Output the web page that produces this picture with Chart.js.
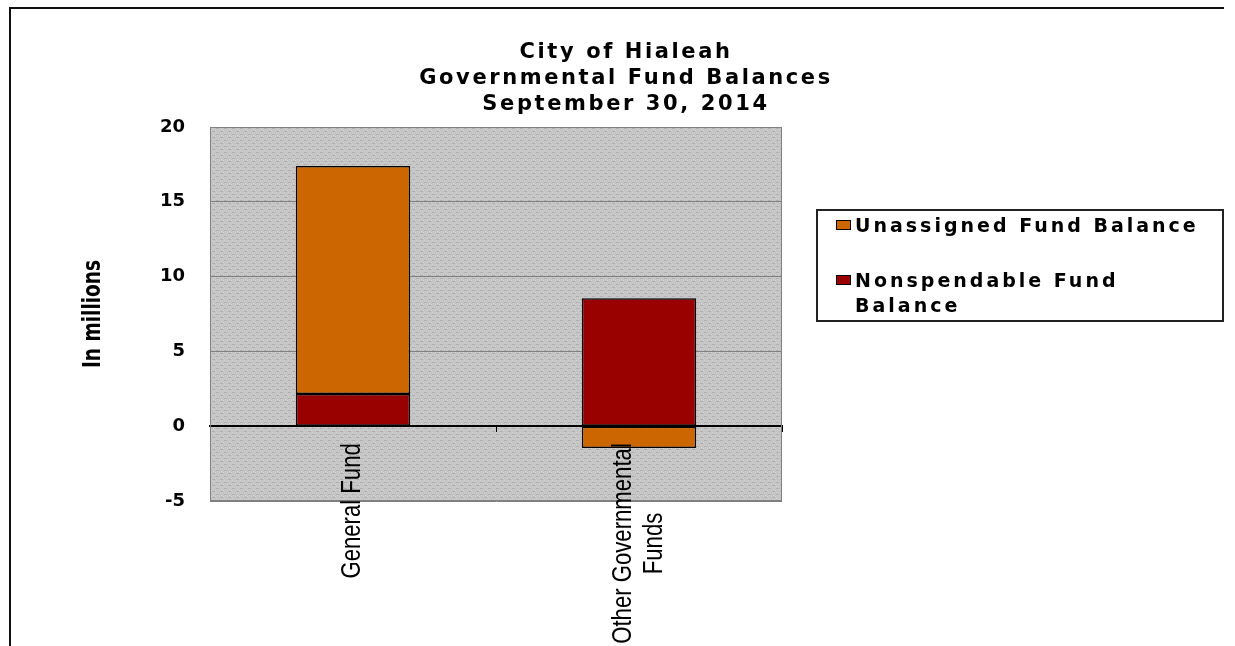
<!DOCTYPE html>
<html>
<head>
<meta charset="utf-8">
<script src="https://cdn.jsdelivr.net/npm/chart.js@4"></script>
<style>
  html, body { margin: 0; padding: 0; background: #fff; }
</style>
</head>
<body>
<canvas id="fundChart" width="1235" height="646"></canvas>
<script>
// values (in millions)
const categories = [['General Fund'], ['Other Governmental', 'Funds']];
const nonspendable = [2.15, 8.55];
const unassigned = [15.25, -1.45];
const seriesNames = ['Nonspendable Fund Balance', 'Unassigned Fund Balance'];
const seriesColors = ['#990000', '#CC6600'];
const titleLines = ['City of Hialeah', 'Governmental Fund Balances', 'September 30, 2014'];
const yAxisTitle = 'In millions';
const yMin = -5, yMax = 20, yStep = 5;

const arial = "'Liberation Sans', Arial, sans-serif";
const heavy = "'DejaVu Sans', sans-serif";
const NARROW = 0.82; // no Arial Narrow here, so squeeze Liberation Sans

// grey dotted fill, like the old Excel plot area
function makePattern(ctx) {
    const tile = document.createElement('canvas');
    tile.width = 8;
    tile.height = 6;
    const t = tile.getContext('2d');
    const rows = [
        'lbbblbbb',
        'bblbbblb',
        'dddbbbbb',
        'blbbblbb',
        'bbblbbbl',
        'bbbbdddb'
    ];
    const cols = { b: '#c4c4c4', l: '#d3d3d3', d: '#afafaf' };
    rows.forEach((r, y) => {
        for (let x = 0; x < r.length; x++) {
            t.fillStyle = cols[r[x]];
            t.fillRect(x, y, 1, 1);
        }
    });
    return ctx.createPattern(tile, 'repeat');
}

function wrapText(ctx, text, maxWidth) {
    const words = text.split(' ');
    const lines = [];
    let cur = '';
    words.forEach(w => {
        const test = cur ? cur + ' ' + w : w;
        if (cur && ctx.measureText(test).width > maxWidth) {
            lines.push(cur);
            cur = w;
        } else {
            cur = test;
        }
    });
    if (cur) lines.push(cur);
    return lines;
}

const decor = {
    id: 'decor',
    beforeDraw(chart) {
        const { ctx, chartArea: a } = chart;
        ctx.save();
        ctx.fillStyle = makePattern(ctx);
        ctx.fillRect(a.left, a.top, a.right - a.left, a.bottom - a.top);
        ctx.restore();
    },
    beforeDatasetsDraw(chart) {
        const { ctx, chartArea: a } = chart;
        ctx.save();
        ctx.strokeStyle = '#808080';
        ctx.lineWidth = 1;
        ctx.strokeRect(a.left + 0.5, a.top + 0.5, a.right - a.left - 1, a.bottom - a.top - 1);
        ctx.restore();
    },
    afterDraw(chart) {
        const { ctx, scales, chartArea: a } = chart;
        ctx.save();

        // outer frame, only left and top show
        ctx.strokeStyle = '#111';
        ctx.lineWidth = 2;
        ctx.beginPath();
        ctx.moveTo(10, 646);
        ctx.lineTo(10, 8);
        ctx.lineTo(1224, 8);
        ctx.stroke();

        // title
        ctx.fillStyle = '#000';
        ctx.font = 'bold 21px ' + heavy;
        ctx.letterSpacing = '2.6px';
        ctx.textAlign = 'center';
        ctx.textBaseline = 'alphabetic';
        titleLines.forEach((s, i) => ctx.fillText(s, 626, 58 + i * 26));
        ctx.letterSpacing = '0px';

        // y axis title, condensed bold
        ctx.save();
        ctx.font = 'bold 25px ' + heavy;
        ctx.translate(93, (a.top + a.bottom) / 2);
        ctx.rotate(-Math.PI / 2);
        ctx.scale(0.74, 1);
        ctx.textAlign = 'center';
        ctx.textBaseline = 'middle';
        ctx.fillText(yAxisTitle, 0, 0);
        ctx.restore();

        // category labels hang below the zero line
        ctx.font = '27px ' + arial;
        const y0 = scales.y.getPixelForValue(0);
        categories.forEach((lines, i) => {
            const x = scales.x.getPixelForValue(i);
            const len = Math.max(...lines.map(s => ctx.measureText(s).width)) * NARROW;
            ctx.save();
            ctx.translate(x, y0 + 17 + len / 2);
            ctx.rotate(-Math.PI / 2);
            ctx.scale(NARROW, 1);
            ctx.textAlign = 'center';
            ctx.textBaseline = 'middle';
            lines.forEach((s, j) => ctx.fillText(s, 0, (j - (lines.length - 1) / 2) * 31.5));
            ctx.restore();
        });

        // legend box on the right
        ctx.strokeStyle = '#222';
        ctx.lineWidth = 2;
        ctx.strokeRect(817, 210, 406, 111);
        ctx.font = 'bold 19px ' + heavy;
        ctx.letterSpacing = '3px';
        ctx.textAlign = 'left';
        ctx.textBaseline = 'alphabetic';
        let base = 232;
        chart.data.datasets.slice().reverse().forEach(ds => {
            ctx.fillStyle = ds.backgroundColor;
            ctx.fillRect(836, base - 12, 15, 10);
            ctx.strokeStyle = '#000';
            ctx.lineWidth = 1;
            ctx.strokeRect(836.5, base - 11.5, 14, 9);
            ctx.fillStyle = '#000';
            wrapText(ctx, ds.label, 360).forEach((s, j) => ctx.fillText(s, 855, base + j * 25));
            base += 55;
        });

        ctx.restore();
    }
};

const ctx = document.getElementById('fundChart').getContext('2d');

const fundChart = new Chart(ctx, {
    type: 'bar',
    data: {
        labels: categories,
        datasets: [{
            label: seriesNames[0],
            data: nonspendable,
            backgroundColor: seriesColors[0],
            borderColor: '#000',
            borderWidth: 1.5,
            borderSkipped: false,
            barPercentage: 0.4,
            categoryPercentage: 1,
        }, {
            label: seriesNames[1],
            data: unassigned,
            backgroundColor: seriesColors[1],
            borderColor: '#000',
            borderWidth: 1.5,
            borderSkipped: false,
            barPercentage: 0.4,
            categoryPercentage: 1,
        }],
    },
    options: {
        responsive: false,
        devicePixelRatio: 1,
        animation: false,
        layout: { padding: { left: 77, right: 453, top: 127, bottom: 145 } },
        plugins: {
            legend: { display: false },
            tooltip: { enabled: false },
        },
        scales: {
            x: {
                stacked: true,
                position: { y: 0 },
                grid: { display: true, drawOnChartArea: false, drawTicks: true, tickLength: 5, color: '#000', offset: true },
                border: { display: true, color: '#000', width: 2 },
                ticks: { display: false },
            },
            y: {
                stacked: true,
                min: yMin,
                max: yMax,
                ticks: {
                    stepSize: yStep,
                    padding: 25,
                    color: '#000',
                    font: { family: 'DejaVu Sans', weight: 'bold', size: 18 },
                },
                grid: {
                    drawTicks: false,
                    color: (c) => c.tick && c.tick.value === 0 ? '#000' : '#808080',
                    lineWidth: 1,
                },
                border: { display: true, color: '#808080' },
                afterFit(scale) { scale.width = 133; },
            },
        },
    },
    plugins: [decor],
});
</script>
</body>
</html>
